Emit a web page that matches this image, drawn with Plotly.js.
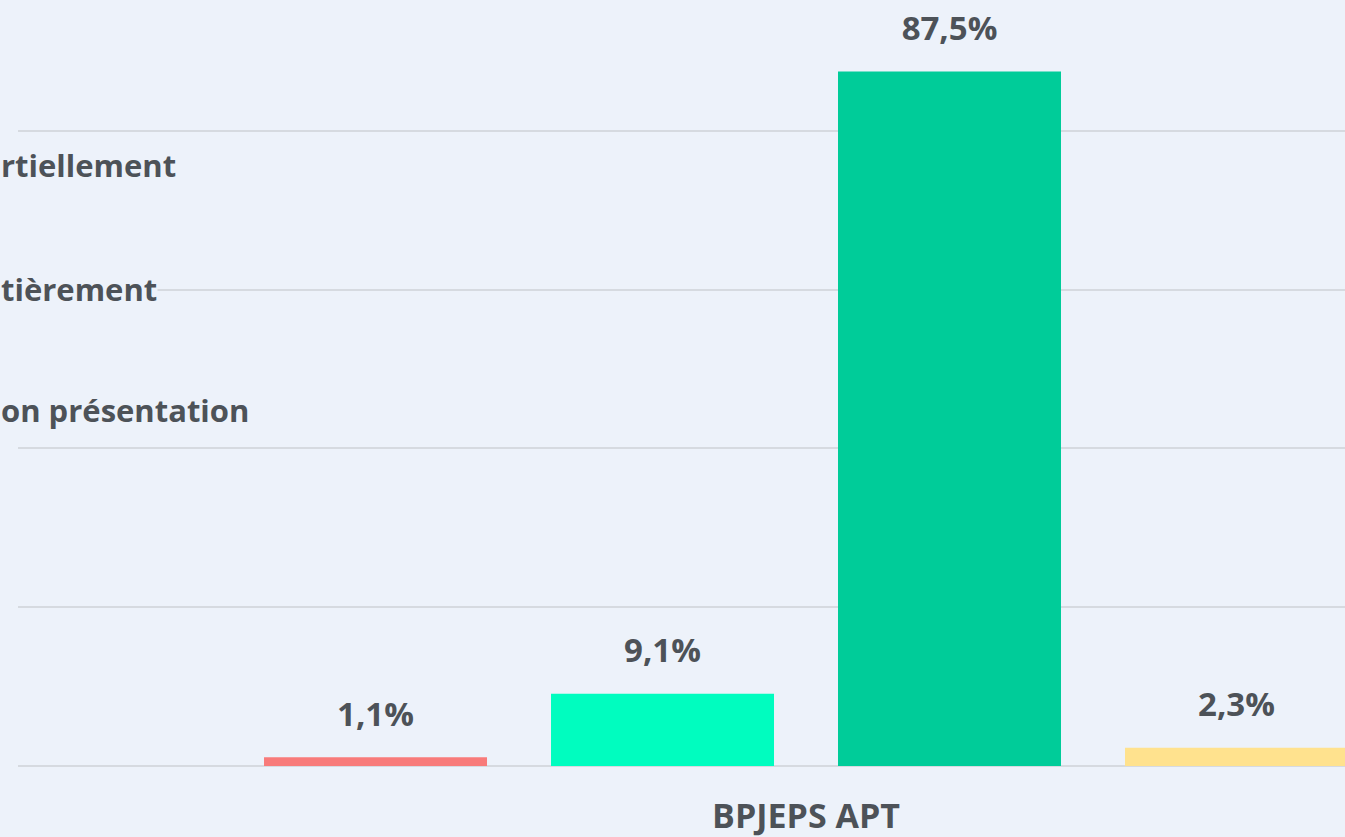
<!DOCTYPE html>
<html>
<head>
<meta charset="utf-8">
<script src="https://cdn.plot.ly/plotly-3.0.1.min.js"></script>
<style>
html,body{margin:0;padding:0;background:#EDF2FA;overflow:hidden;}
#chart{width:1345px;height:837px;}
</style>
</head>
<body>
<div id="chart"></div>
<script>
// Data
const category = ['BPJEPS APT'];
const seriesNames = ['Non', 'Oui, partiellement', 'Oui, entièrement', 'Sans présentation'];
const seriesValues = [1.1, 9.1, 87.5, 2.3];
const seriesLabels = ['1,1%', '9,1%', '87,5%', '2,3%'];
const seriesColors = ['#F87B7A', '#00FDBF', '#00CC99', '#FFE28E'];
// Visible (cropped) legend fragments
const legendFragments = ['rtiellement', 'tièrement', 'on présentation'];
const legendY = [75.7, 60.1, 44.8];

const BG = '#EDF2FA';
const TXT = '#4D5258';
const FONT = '"Open Sans", "DejaVu Sans", sans-serif';

const traces = seriesValues.map((v, i) => ({
  type: 'bar',
  name: seriesNames[i],
  x: category,
  y: [v],
  text: [seriesLabels[i]],
  texttemplate: '<span style="font-size:33px">%{text}</span><br> ',
  textposition: 'outside',
  cliponaxis: false,
  textfont: {family: FONT, size: 18, color: TXT, weight: 'bold'},
  marker: {color: seriesColors[i]},
  hoverinfo: 'skip'
}));

const annotations = legendFragments.map((t, i) => ({
  xref: 'paper', yref: 'y', x: -18/1327, y: legendY[i],
  xanchor: 'left', yanchor: 'middle',
  text: t, showarrow: false,
  bgcolor: BG, borderpad: 0,
  font: {family: FONT, size: 31, color: TXT, weight: 'bold'}
}));

const layout = {
  width: 1345, height: 837,
  margin: {l: 18, r: 0, t: 0, b: 71, pad: 0},
  paper_bgcolor: BG, plot_bgcolor: BG,
  showlegend: false,
  barmode: 'group',
  bargap: 0.2716,
  bargroupgap: 0.223,
  xaxis: {
    type: 'category',
    range: [-0.5, 0.342],
    showgrid: false, zeroline: false, showline: false,
    ticks: '', ticklabelstandoff: 27,
    tickfont: {family: FONT, size: 34, color: TXT, weight: 'bold'},
    fixedrange: true
  },
  yaxis: {
    range: [0, 96.5],
    dtick: 20, tick0: 0,
    showgrid: true, gridcolor: '#D6DAE0', gridwidth: 2,
    zeroline: true, zerolinecolor: '#D6DAE0', zerolinewidth: 2,
    showticklabels: false, ticks: '', showline: false,
    fixedrange: true
  },
  annotations: annotations
};

Plotly.newPlot('chart', traces, layout, {displayModeBar: false, staticPlot: true});
</script>
</body>
</html>
